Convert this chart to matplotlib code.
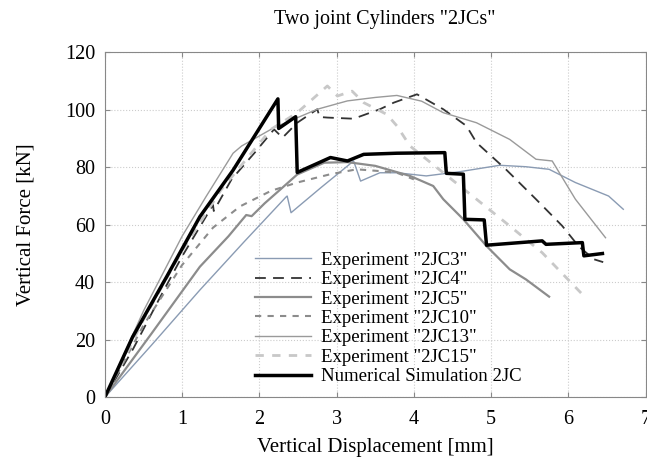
import matplotlib.pyplot as plt

plt.rcParams['font.family'] = ['Liberation Serif', 'DejaVu Serif']

# displacement [mm] / force [kN]
x_2jc3 = [0, 0.6, 1.23, 1.8, 2.35, 2.36, 2.41, 2.8, 3.22, 3.31, 3.56, 3.78, 4.16, 4.6, 5.11, 5.45, 5.75, 6.09, 6.52, 6.71]
y_2jc3 = [0, 18, 37.3, 54, 69.8, 70.0, 64.2, 73, 82.2, 75.2, 78.1, 78.1, 77.0, 78.5, 80.7, 80.2, 79.3, 74.7, 70.0, 65.4]

x_2jc4 = [0, 0.37, 0.7, 1.0, 1.40, 1.41, 1.64, 1.94, 2.19, 2.30, 2.49, 2.75, 2.78, 2.88, 3.22, 3.56, 3.74, 4.04, 4.38, 4.68, 4.81, 5.19, 5.58, 5.92, 6.13, 6.33, 6.45]
y_2jc4 = [0, 17, 34, 49, 66.9, 64.8, 75.8, 85.1, 93.2, 90.3, 95.5, 100.2, 97.5, 97.3, 96.9, 100.2, 102.5, 105.4, 100.2, 94.4, 88.6, 79.3, 68.9, 59.6, 52.6, 48.0, 47.0]

x_2jc5 = [0, 0.6, 1.23, 1.6, 1.83, 1.9, 2.07, 2.26, 2.49, 2.84, 3.14, 3.5, 3.95, 4.25, 4.38, 4.64, 4.94, 5.24, 5.45, 5.75]
y_2jc5 = [0, 22, 45.4, 56, 63.4, 63.0, 67.5, 72.0, 77.5, 81.6, 81.8, 80.5, 77.0, 73.5, 68.9, 61.9, 52.6, 44.5, 41.0, 35.0]

x_2jc10 = [0, 0.5, 1.0, 1.4, 1.75, 2.15, 2.49, 2.92, 3.26, 3.6, 3.78, 4.0]
y_2jc10 = [0, 25, 46, 59, 66.4, 71.8, 74.7, 77.6, 79.3, 78.6, 78.1, 75.8]

x_2jc13 = [0, 0.5, 1.0, 1.31, 1.66, 1.77, 2.19, 2.75, 3.14, 3.5, 3.78, 4.1, 4.38, 4.81, 5.24, 5.58, 5.79, 6.09, 6.48]
y_2jc13 = [0, 30, 56, 69.8, 84.9, 87.4, 93.8, 100.2, 103.1, 104.3, 105.0, 103.0, 99.0, 95.5, 89.7, 82.8, 82.2, 68.9, 55.5]

x_2jc15 = [0, 0.5, 1.0, 1.5, 2.15, 2.49, 2.88, 3.01, 3.20, 3.35, 3.65, 3.78, 3.95, 4.38, 4.81, 5.24, 5.66, 6.18]
y_2jc15 = [0, 27, 51, 72, 93.2, 99.0, 108.3, 104.8, 106.5, 102.5, 98.4, 94.4, 87.4, 78.1, 68.9, 59.6, 50.3, 35.8]

x_sim = [0, 0.36, 0.80, 1.23, 1.66, 2.24, 2.25, 2.47, 2.49, 2.92, 3.14, 3.35, 3.78, 4.40, 4.42, 4.64, 4.66, 4.91, 4.94, 5.66, 5.71, 6.18, 6.20, 6.44]
y_sim = [0, 21.0, 41.9, 62.8, 79.0, 103.8, 93.5, 97.6, 78.2, 83.4, 82.2, 84.5, 84.9, 85.1, 77.9, 77.6, 61.9, 61.7, 52.9, 54.4, 53.2, 53.8, 49.2, 50.0]

fig = plt.figure(figsize=(6.47, 4.63), dpi=100)
ax = fig.add_axes([0.162, 0.142, 0.836, 0.745])

ax.plot(x_2jc3, y_2jc3, color='#8a9bb3', lw=1.0, label='Experiment "2JC3"')
ax.plot(x_2jc4, y_2jc4, color='#333333', lw=1.3, ls=(0, (6, 4)), label='Experiment "2JC4"')
ax.plot(x_2jc5, y_2jc5, color='#8c8c8c', lw=1.6, label='Experiment "2JC5"')
ax.plot(x_2jc10, y_2jc10, color='#8c8c8c', lw=1.5, ls=(0, (3, 3)), label='Experiment "2JC10"')
ax.plot(x_2jc13, y_2jc13, color='#9a9a9a', lw=1.0, label='Experiment "2JC13"')
ax.plot(x_2jc15, y_2jc15, color='#c8c8c8', lw=2.0, ls=(0, (3, 3)), label='Experiment "2JC15"')
ax.plot(x_sim, y_sim, color='black', lw=2.5, label='Numerical Simulation 2JC')

ax.set_xlim(0, 7)
ax.set_ylim(0, 120)
ax.set_xticks(range(0, 8))
ax.set_yticks(range(0, 121, 20))
ax.grid(True, color='#cccccc', ls=':', lw=0.8)
ax.tick_params(direction='in', labelsize=14.5, top=True, right=True, color='#888888')
ax.tick_params(axis='x', pad=9)
ax.tick_params(axis='y', pad=7)
for s in ax.spines.values():
    s.set_color('#888888')

ax.set_xlabel('Vertical Displacement [mm]', fontsize=15, labelpad=7)
ax.set_ylabel('Vertical Force [kN]', fontsize=15, labelpad=21)
fig.suptitle('Two joint Cylinders "2JCs"', fontsize=14.5, x=0.595, y=0.978)

ax.legend(loc='lower left', bbox_to_anchor=(0.255, 0.0), frameon=False, fontsize=13.5,
          handlelength=3.0, labelspacing=0.12, handletextpad=0.5, borderaxespad=0.25)

fig.savefig('out.png', dpi=100)
